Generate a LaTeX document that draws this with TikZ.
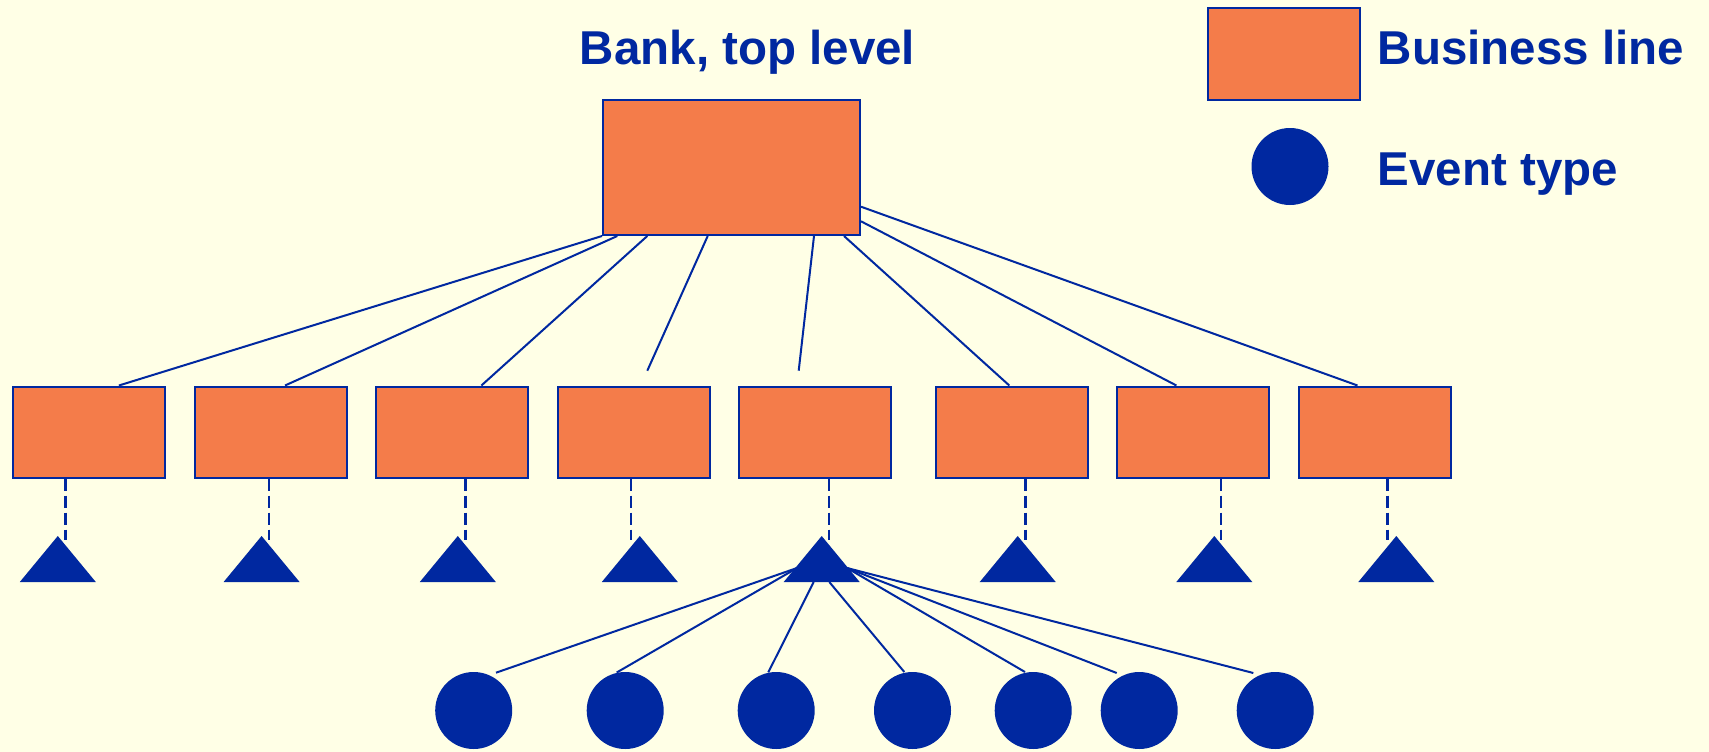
\documentclass[tikz,border=0pt]{standalone}
\usepackage{fontspec}
\setmainfont{Liberation Sans}
\definecolor{paper}{RGB}{255,255,230}
\definecolor{bizorange}{RGB}{244,124,74}
\definecolor{navy}{RGB}{0,40,160}
\begin{document}
\begin{tikzpicture}[x=1bp,y=-1bp,
  bizbox/.style={rectangle, draw=navy, fill=bizorange, line width=2bp,
    inner sep=0pt, minimum width=152bp, minimum height=91bp, anchor=north west},
  evt/.style={circle, fill=navy, inner sep=0pt, minimum size=77bp},
  heading/.style={text=navy, inner sep=0pt,
    font=\bfseries\fontsize{47.5bp}{52bp}\selectfont},
  link/.style={draw=navy, line width=2bp},
  dashlink/.style={draw=navy, line width=2.5bp, dash pattern=on 12bp off 5bp},
  tri/.style={fill=navy}]

% canvas
\fill[paper] (0,0) rectangle (1709,752);
\useasboundingbox (0,0) rectangle (1709,752);

% headings and legend
\node[heading, anchor=base] (title) at (747.5,65) {Bank, top level};
\node[bizbox, minimum width=151.5bp] (legbox) at (1207,7.5) {};
\node[heading, anchor=base west] (legbiz) at (1377.5,64.3) {Business line};
\node[evt] (legevt) at (1290,166.5) {};
\node[heading, anchor=base west] (legev) at (1377.5,185.7) {Event type};

% bank and business lines
\node[bizbox, minimum width=257bp, minimum height=135.5bp] (top) at (602,98.5) {};
\foreach \i/\x in {1/12,2/194,3/375,4/557,5/738,6/935,7/1116,8/1298}
  \node[bizbox] (b\i) at (\x,385.5) {};

% loose ends of the two short links
\coordinate (u4) at (647.3,370.7);
\coordinate (u5) at (798.7,370.7);

% links from the bank to the business lines
\draw[link] (top.south west) -- ([xshift=106.9bp]b1.north west);
\draw[link] ([xshift=15.3bp]top.south west) -- ([xshift=91bp]b2.north west);
\draw[link] ([xshift=45.3bp]top.south west) -- ([xshift=106.4bp]b3.north west);
\draw[link] ([xshift=105.7bp]top.south west) -- (u4);
\draw[link] ([xshift=212bp]top.south west) -- (u5);
\draw[link] ([xshift=242bp]top.south west) -- ([xshift=74.3bp]b6.north west);
\draw[link] ([yshift=14.7bp]top.south east) -- ([xshift=60.4bp]b7.north west);
\draw[link] ([yshift=29.3bp]top.south east) -- ([xshift=59.5bp]b8.north west);

% dashed drops to the triangles
\foreach \i/\x in {1/65.4,2/269.2,3/465.4,4/631.1,5/829,6/1025.3,7/1220.8,8/1387.6}{
  \coordinate (d\i) at (\x,540);
  \draw[dashlink] (b\i.south -| d\i) -- (d\i);
}

% event types
\foreach \i/\x in {1/473.7,2/625.2,3/776.2,4/912.5,5/1033.2,6/1139.2,7/1275.2}
  \node[evt] (e\i) at (\x,710.5) {};

% fan from the fifth triangle
\coordinate (fl) at (797,568);
\coordinate (fr) at (847,568);
\coordinate (fb1) at (813.7,582);
\coordinate (fb2) at (829.3,582);
\coordinate (c1) at (496,672.7);
\coordinate (c2) at (616.7,672.5);
\coordinate (c3) at (768.3,672.3);
\coordinate (c4) at (904.3,672);
\coordinate (c5) at (1025,672);
\coordinate (c6) at (1116.7,673);
\coordinate (c7) at (1253.3,673);
\draw[link] (fl) -- (c1);
\draw[link] (fl) -- (c2);
\draw[link] (fb1) -- (c3);
\draw[link] (fb2) -- (c4);
\draw[link] (fr) -- (c5);
\draw[link] (fr) -- (c6);
\draw[link] (fr) -- (c7);

% triangles
\foreach \i/\x in {1/57.8,2/261.6,3/457.8,4/639.8,5/821.7,6/1017.7,7/1214.3,8/1396.3}{
  \coordinate (t\i) at (\x,536);
  \fill[tri] (t\i) -- ++(-38,46) -- ++(76,0) -- cycle;
}
\end{tikzpicture}
\end{document}
